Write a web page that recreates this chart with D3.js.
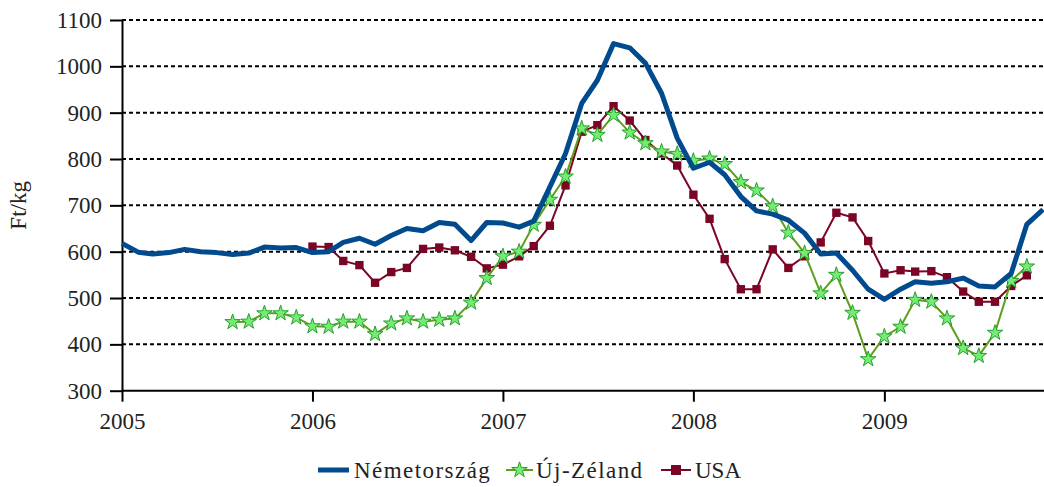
<!DOCTYPE html>
<html>
<head>
<meta charset="utf-8">
<script src="https://cdn.jsdelivr.net/npm/d3@7"></script>
<style>
  body { margin: 0; background: #fff; }
  text { font-family: "Liberation Serif", "Times New Roman", serif; fill: #222; }
</style>
</head>
<body>
<div id="chart"></div>
<script>
// data: monthly prices, Ft/kg
const yTicks = [300, 400, 500, 600, 700, 800, 900, 1000, 1100];
const yearTicks = [2005, 2006, 2007, 2008, 2009];
const seriesNames = ["Németország", "Új-Zéland", "USA"];

// first month of each series (year, month index)
const germanyStart = [2005, 0];
const nzStart = [2005, 7];
const usaStart = [2006, 0];

const germany = [
  618, 599, 595, 598, 605, 600, 598, 594, 597, 610, 608, 609,
  598, 600, 620, 629, 616, 635, 650, 645, 663, 659, 624, 663,
  662, 653, 666, 740, 812, 920, 970, 1049, 1040, 1007, 942, 845,
  780, 793, 766, 719, 688, 681, 668, 640, 595, 597, 560, 519,
  497, 519, 535, 532, 535, 543, 526, 524, 553, 659, 691
];
const newZealand = [
  448, 449, 467, 467, 458,
  439, 438, 449, 449, 422, 445, 456, 449, 453, 456, 490, 543,
  590, 600, 658, 712, 762, 866, 852, 895, 857, 834, 816, 811,
  796, 801, 789, 750, 732, 698, 641, 597, 510, 550, 468, 368,
  417, 438, 496, 492, 456, 392, 375, 425, 537, 568
];
const usa = [
  611, 610, 580, 571, 533, 556, 565, 606, 609, 603, 589, 564,
  572, 590, 612, 656, 743, 859, 873, 914, 883, 841, 812, 786,
  723, 671, 584, 519, 519, 605, 565, 590, 620, 684, 674, 623,
  553, 560, 557, 558, 545, 514, 492, 492, 526, 549
];

const width = 1044;
const height = 487;
const margin = { top: 20, right: 1, bottom: 96.3, left: 122 };
const fontSize = 23;

const svg = d3.select("#chart").append("svg")
  .attr("width", width)
  .attr("height", height);

const x = d3.scaleTime()
  .domain([new Date(2005, 0, 1), new Date(2009, 10, 1)])
  .range([margin.left, width - margin.right]);
const y = d3.scaleLinear()
  .domain([300, 1100])
  .range([height - margin.bottom, margin.top]);

// turn a start month + values into points
function toPoints(start, values) {
  return values.map((v, i) => ({ date: new Date(start[0], start[1] + i, 1), value: v }));
}

// gridlines
svg.append("g").selectAll("line")
  .data(yTicks.filter(d => d !== 300))
  .join("line")
  .attr("x1", margin.left)
  .attr("x2", width)
  .attr("y1", d => y(d))
  .attr("y2", d => y(d))
  .attr("stroke", "#000")
  .attr("stroke-width", 2)
  .attr("stroke-dasharray", "4,3");

// axes
const yAxis = d3.axisLeft(y)
  .tickValues(yTicks)
  .tickFormat(d3.format("d"))
  .tickSize(12).tickPadding(8).tickSizeOuter(0);
const xAxis = d3.axisBottom(x)
  .tickValues(yearTicks.map(yr => new Date(yr, 0, 1)))
  .tickFormat(d3.timeFormat("%Y"))
  .tickSize(11).tickPadding(11).tickSizeOuter(0);

const yAxisGroup = svg.append("g").attr("transform", `translate(${margin.left},0)`).call(yAxis);
const xAxisGroup = svg.append("g").attr("transform", `translate(0,${y(300)})`).call(xAxis);
xAxisGroup.select(".domain").attr("d", `M${margin.left},0H${width}`);

[yAxisGroup, xAxisGroup].forEach(g => {
  g.selectAll("path, line").attr("stroke", "#000").attr("stroke-width", 2);
  g.selectAll("text").attr("font-size", fontSize).attr("fill", "#222")
    .style("font-family", '"Liberation Serif", "Times New Roman", serif');
});

svg.append("text")
  .attr("transform", `translate(26,${(y(300) + y(1100)) / 2}) rotate(-90)`)
  .attr("text-anchor", "middle")
  .attr("font-size", fontSize)
  .text("Ft/kg");

const line = d3.line().x(d => x(d.date)).y(d => y(d.value));

const colGermany = "#004a8d";
const colNzLine = "#5d9f1d";
const colNzFill = "#74ec74";
const colNzStroke = "#25a02c";
const colUsa = "#7a0524";

// USA
const usaPts = toPoints(usaStart, usa);
svg.append("path").datum(usaPts)
  .attr("d", line).attr("fill", "none")
  .attr("stroke", colUsa).attr("stroke-width", 2);
svg.append("g").selectAll("path").data(usaPts).join("path")
  .attr("transform", d => `translate(${x(d.date)},${y(d.value)})`)
  .attr("d", d3.symbol(d3.symbolSquare, 70))
  .attr("fill", colUsa);

// New Zealand
const nzPts = toPoints(nzStart, newZealand);
svg.append("path").datum(nzPts)
  .attr("d", line).attr("fill", "none")
  .attr("stroke", colNzLine).attr("stroke-width", 2);
const star = d3.symbol(d3.symbolStar, 75);
svg.append("g").selectAll("path").data(nzPts).join("path")
  .attr("transform", d => `translate(${x(d.date)},${y(d.value)})`)
  .attr("d", star)
  .attr("fill", colNzFill)
  .attr("stroke", colNzStroke)
  .attr("stroke-width", 1);

// Germany
svg.append("path").datum(toPoints(germanyStart, germany))
  .attr("d", line).attr("fill", "none")
  .attr("stroke", colGermany).attr("stroke-width", 5)
  .attr("stroke-linejoin", "round");

// legend
const legendY = 470;
const legend = svg.append("g");
const items = [
  { name: seriesNames[0], x: 318 },
  { name: seriesNames[1], x: 506 },
  { name: seriesNames[2], x: 661 }
];
legend.append("line").attr("x1", items[0].x).attr("x2", items[0].x + 31)
  .attr("y1", legendY).attr("y2", legendY)
  .attr("stroke", colGermany).attr("stroke-width", 5);
legend.append("line").attr("x1", items[1].x).attr("x2", items[1].x + 27)
  .attr("y1", legendY).attr("y2", legendY)
  .attr("stroke", colNzLine).attr("stroke-width", 2);
legend.append("path").attr("transform", `translate(${items[1].x + 13.5},${legendY})`)
  .attr("d", star).attr("fill", colNzFill).attr("stroke", colNzStroke).attr("stroke-width", 1);
legend.append("line").attr("x1", items[2].x).attr("x2", items[2].x + 30)
  .attr("y1", legendY).attr("y2", legendY)
  .attr("stroke", colUsa).attr("stroke-width", 2);
legend.append("path").attr("transform", `translate(${items[2].x + 15},${legendY})`)
  .attr("d", d3.symbol(d3.symbolSquare, 100)).attr("fill", colUsa);

legend.selectAll("text").data(items).join("text")
  .attr("x", (d, i) => d.x + [36, 30, 34][i])
  .attr("y", legendY)
  .attr("dy", "0.35em")
  .attr("font-size", fontSize)
  .attr("letter-spacing", (d, i) => i === 2 ? 0 : 1.45)
  .text(d => d.name);
</script>
</body>
</html>
